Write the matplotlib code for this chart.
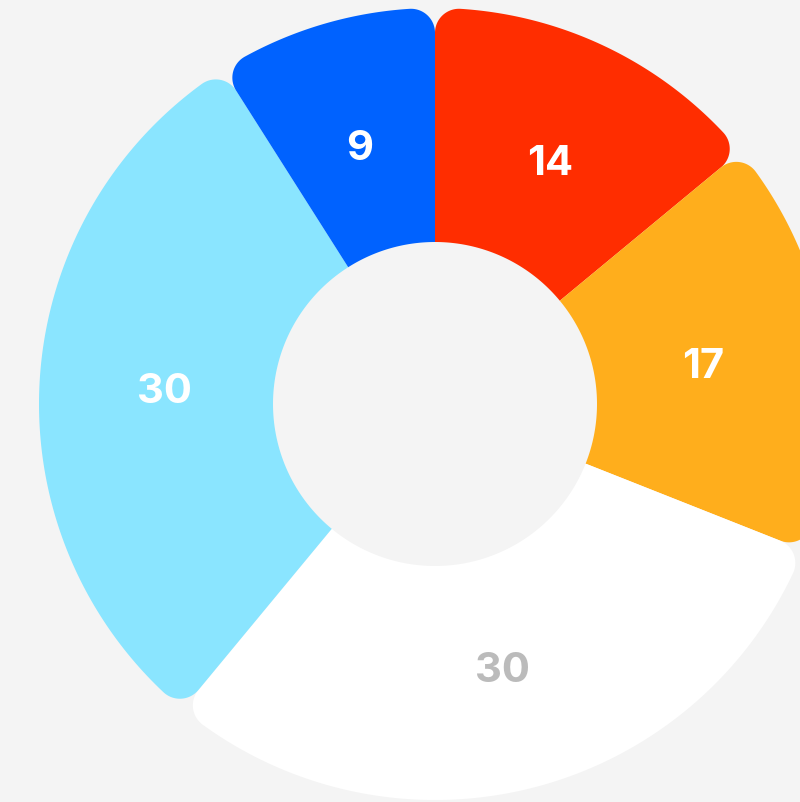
import numpy as np
import matplotlib.pyplot as plt
from matplotlib.patches import Polygon

values = [14, 17, 30, 30, 9]
labels = ['14', '17', '30', '30', '9']
colors = ['#FF2D00', '#FFAE1C', '#FFFFFF', '#8AE5FF', '#0062FF']
label_colors = ['white', 'white', '#BBBBBB', 'white', 'white']

# geometry in pixels
cx, cy = 435, 405
r_in, r_out = 162, 396
corner = 24
label_r = 271
label_dy = 4  # matplotlib centres text on its full line box


def to_xy(r, a):
    return cx + r * np.cos(a), cy - r * np.sin(a)


def sector(a_start, a_end):
    # a_start > a_end (clockwise), radians; outer corners rounded, inner sharp
    d = np.arcsin(corner / (r_out - corner))
    rho = r_out - corner
    pts = []
    for a in np.linspace(a_end, a_start, 80):
        pts.append(to_xy(r_in, a))
    fc = a_start - d
    ccx, ccy = rho * np.cos(fc), rho * np.sin(fc)
    for t in np.linspace(a_start + np.pi / 2, fc, 30):
        x, y = ccx + corner * np.cos(t), ccy + corner * np.sin(t)
        pts.append((cx + x, cy - y))
    for a in np.linspace(a_start - d, a_end + d, 120):
        pts.append(to_xy(r_out, a))
    fc = a_end + d
    ccx, ccy = rho * np.cos(fc), rho * np.sin(fc)
    for t in np.linspace(fc, a_end - np.pi / 2, 30):
        x, y = ccx + corner * np.cos(t), ccy + corner * np.sin(t)
        pts.append((cx + x, cy - y))
    return pts


fig = plt.figure(figsize=(8, 8.03), dpi=100)
fig.patch.set_facecolor('#F4F4F4')
ax = fig.add_axes([0, 0, 1, 1])
ax.set_xlim(0, 800)
ax.set_ylim(803, 0)
ax.set_aspect('equal')
ax.axis('off')

total = sum(values)
start = np.pi / 2
for v, lab, col, lcol in zip(values, labels, colors, label_colors):
    end = start - 2 * np.pi * v / total
    ax.add_patch(Polygon(sector(start, end), closed=True, facecolor=col,
                         edgecolor='none'))
    mid = (start + end) / 2
    x, y = to_xy(label_r, mid)
    ax.text(x, y + label_dy, lab, ha='center', va='center', fontsize=30,
            fontweight='bold', family=['Inter', 'DejaVu Sans'], color=lcol)
    start = end

fig.savefig('out.png', dpi=100, facecolor=fig.get_facecolor())
